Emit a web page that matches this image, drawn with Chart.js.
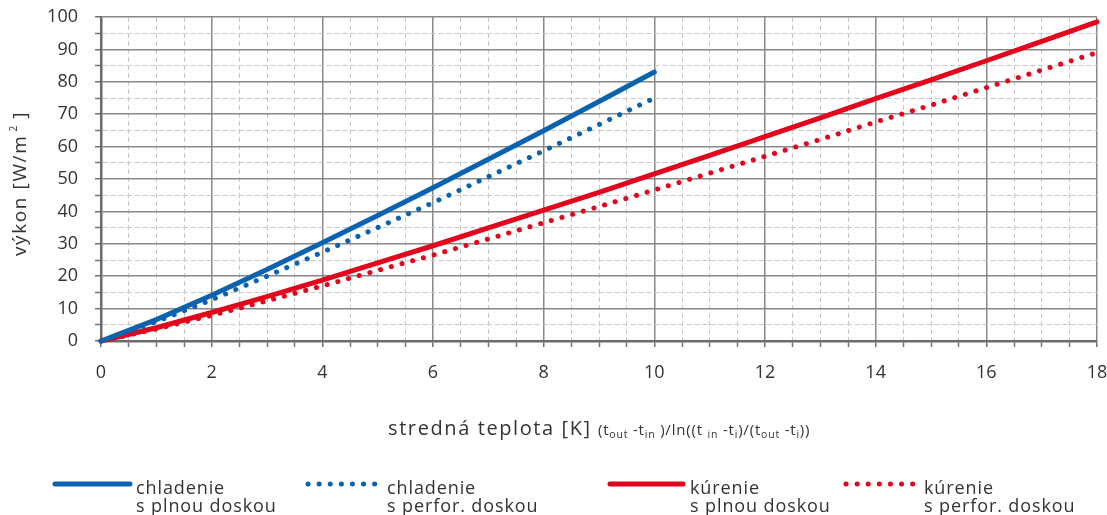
<!DOCTYPE html>
<html>
<head>
<meta charset="utf-8">
<script src="https://cdn.jsdelivr.net/npm/chart.js@4.4.1/dist/chart.umd.min.js"></script>
<style>
    html, body { margin: 0; padding: 0; background: #fff; }
    #wrap { width: 1107px; height: 515px; position: relative; }
</style>
</head>
<body>
<div id="wrap"><canvas id="chart"></canvas></div>
<script>
// values
const coolX = [0, 1, 2, 3, 4, 5, 6, 7, 8, 9, 10];
const coolFull = [0, 6.6, 14.1, 22.1, 30.3, 38.7, 47.3, 56.1, 64.9, 73.9, 83];
const coolPerf = [0, 6.0, 12.7, 20.0, 27.4, 35.0, 42.7, 50.7, 58.7, 66.8, 75];

const heatX = [0, 1, 2, 3, 4, 5, 6, 7, 8, 9, 10, 11, 12, 13, 14, 15, 16, 17, 18];
const heatFull = [0, 4.1, 8.8, 13.7, 18.8, 24.1, 29.4, 34.9, 40.4, 45.9, 51.6, 57.3, 63.1, 68.9, 74.8, 80.6, 86.5, 92.5, 98.5];
const heatPerf = [0, 3.7, 7.9, 12.4, 17.0, 21.8, 26.5, 31.5, 36.5, 41.5, 46.6, 51.8, 57.0, 62.2, 67.6, 72.8, 78.2, 83.6, 89];

const legendLabels = [
    ['chladenie', 's plnou doskou'],
    ['chladenie', 's perfor. doskou'],
    ['kúrenie', 's plnou doskou'],
    ['kúrenie', 's perfor. doskou']
];

const BLUE = '#0b63b0';
const RED = '#e3051b';
const TEXT = '#333333';
const FONT = '"Open Sans", sans-serif';
const DOTS = [0.1, 11];

function toPoints(xs, ys) {
    return xs.map((x, i) => ({ x: x, y: ys[i] }));
}

// draws a run of [text, size, shift] pieces, left to right
function drawRun(ctx, parts, x, base, spacing) {
    parts.forEach(p => {
        ctx.font = p[1] + 'px ' + FONT;
        ctx.letterSpacing = (p[3] !== undefined ? p[3] : spacing) + 'px';
        ctx.fillText(p[0], x, base + p[2]);
        x += ctx.measureText(p[0]).width;
    });
    return x;
}

// legend, axis titles are drawn by hand (multi-line labels, sub/superscripts)
const extras = {
    id: 'extras',
    afterDraw(chart) {
        const ctx = chart.ctx;
        ctx.save();
        ctx.fillStyle = TEXT;
        ctx.textBaseline = 'alphabetic';
        ctx.textAlign = 'left';

        // x axis title
        drawRun(ctx, [['stredná teplota [K]', 20, 0]], 388, 435, 1.6);
        drawRun(ctx, [
            ['(t', 15, 0], ['out', 10.5, 3], [' -t', 15, 0], ['in', 10.5, 3], [' )/ln((t ', 15, 0], ['in', 10.5, 3],
            [' -t', 15, 0], ['i', 10.5, 3], [')/(t', 15, 0], ['out', 10.5, 3], [' -t', 15, 0], ['i', 10.5, 3], ['))', 15, 0]
        ], 598, 435, 0.8);

        // y axis title
        ctx.save();
        ctx.translate(26, 256);
        ctx.rotate(-Math.PI / 2);
        drawRun(ctx, [['výkon [W/m', 19, 0], [' 2', 10, -9, 0.5], [' ]', 19, 0]], 0, 0, 1.6);
        ctx.restore();

        // legend
        const items = [
            { x0: 55, x1: 130, tx: 136, color: BLUE, dash: [] },
            { x0: 308, x1: 377, tx: 387, color: BLUE, dash: DOTS },
            { x0: 610, x1: 683, tx: 690, color: RED, dash: [] },
            { x0: 846, x1: 915, tx: 924, color: RED, dash: DOTS }
        ];
        items.forEach((it, i) => {
            ctx.beginPath();
            ctx.setLineDash(it.dash);
            ctx.lineCap = 'round';
            ctx.lineWidth = 5;
            ctx.strokeStyle = it.color;
            ctx.moveTo(it.x0, 484);
            ctx.lineTo(it.x1, 484);
            ctx.stroke();
            ctx.setLineDash([]);
            drawRun(ctx, [[legendLabels[i][0], 18, 0]], it.tx, 494, 0.9);
            drawRun(ctx, [[legendLabels[i][1], 18, 0]], it.tx, 512, 0.9);
        });
        ctx.letterSpacing = '0px';
        ctx.restore();
    }
};

const isMajorX = v => Math.abs(v % 2) < 1e-6;
const isMajorY = v => Math.abs(v % 10) < 1e-6;

new Chart(document.getElementById('chart'), {
    type: 'line',
    data: {
        datasets: [
            {
                label: legendLabels[1].join(' '),
                data: toPoints(coolX, coolPerf),
                borderColor: BLUE,
                borderWidth: 5,
                borderDash: DOTS,
                borderCapStyle: 'round'
            },
            {
                label: legendLabels[0].join(' '),
                data: toPoints(coolX, coolFull),
                borderColor: BLUE,
                borderWidth: 5,
                borderCapStyle: 'round'
            },
            {
                label: legendLabels[3].join(' '),
                data: toPoints(heatX, heatPerf),
                borderColor: RED,
                borderWidth: 5,
                borderDash: DOTS,
                borderCapStyle: 'round'
            },
            {
                label: legendLabels[2].join(' '),
                data: toPoints(heatX, heatFull),
                borderColor: RED,
                borderWidth: 5,
                borderCapStyle: 'round'
            }
        ]
    },
    options: {
        responsive: true,
        maintainAspectRatio: false,
        animation: false,
        clip: false,
        elements: { point: { radius: 0 }, line: { tension: 0 } },
        layout: { padding: { left: 0, top: 17, right: 10, bottom: 134 } },
        plugins: {
            legend: { display: false },
            tooltip: { enabled: false }
        },
        scales: {
            x: {
                type: 'linear',
                min: 0,
                max: 18,
                afterFit(scale) {
                    scale.height = 40;
                    scale.paddingLeft = 0;
                    scale.paddingRight = 0;
                },
                ticks: {
                    stepSize: 0.5,
                    autoSkip: false,
                    maxRotation: 0,
                    padding: 15,
                    color: TEXT,
                    font: { family: FONT, size: 18 },
                    callback: v => isMajorX(v) ? v : ''
                },
                grid: {
                    color: c => isMajorX(c.tick.value) ? '#888888' : '#c6c6c6',
                    lineWidth: c => isMajorX(c.tick.value) ? 1.5 : 1,
                    tickColor: '#707070',
                    tickLength: 6,
                    tickWidth: 1.5
                },
                border: {
                    color: '#6b6b6b',
                    width: 2.5,
                    dash: c => (c.tick && !isMajorX(c.tick.value)) ? [5, 3] : []
                }
            },
            y: {
                min: 0,
                max: 100,
                afterFit(scale) {
                    scale.width = 101;
                    scale.paddingTop = 0;
                    scale.paddingBottom = 0;
                },
                ticks: {
                    stepSize: 5,
                    autoSkip: false,
                    padding: 17,
                    color: TEXT,
                    font: { family: FONT, size: 18 },
                    callback: v => isMajorY(v) ? v : ''
                },
                grid: {
                    color: c => isMajorY(c.tick.value) ? '#888888' : '#c6c6c6',
                    lineWidth: c => isMajorY(c.tick.value) ? 1.5 : 1,
                    tickColor: '#707070',
                    tickLength: 6,
                    tickWidth: 1.5
                },
                border: {
                    color: '#6b6b6b',
                    width: 2.5,
                    dash: c => (c.tick && !isMajorY(c.tick.value)) ? [5, 3] : []
                }
            }
        }
    },
    plugins: [extras]
});
</script>
</body>
</html>
